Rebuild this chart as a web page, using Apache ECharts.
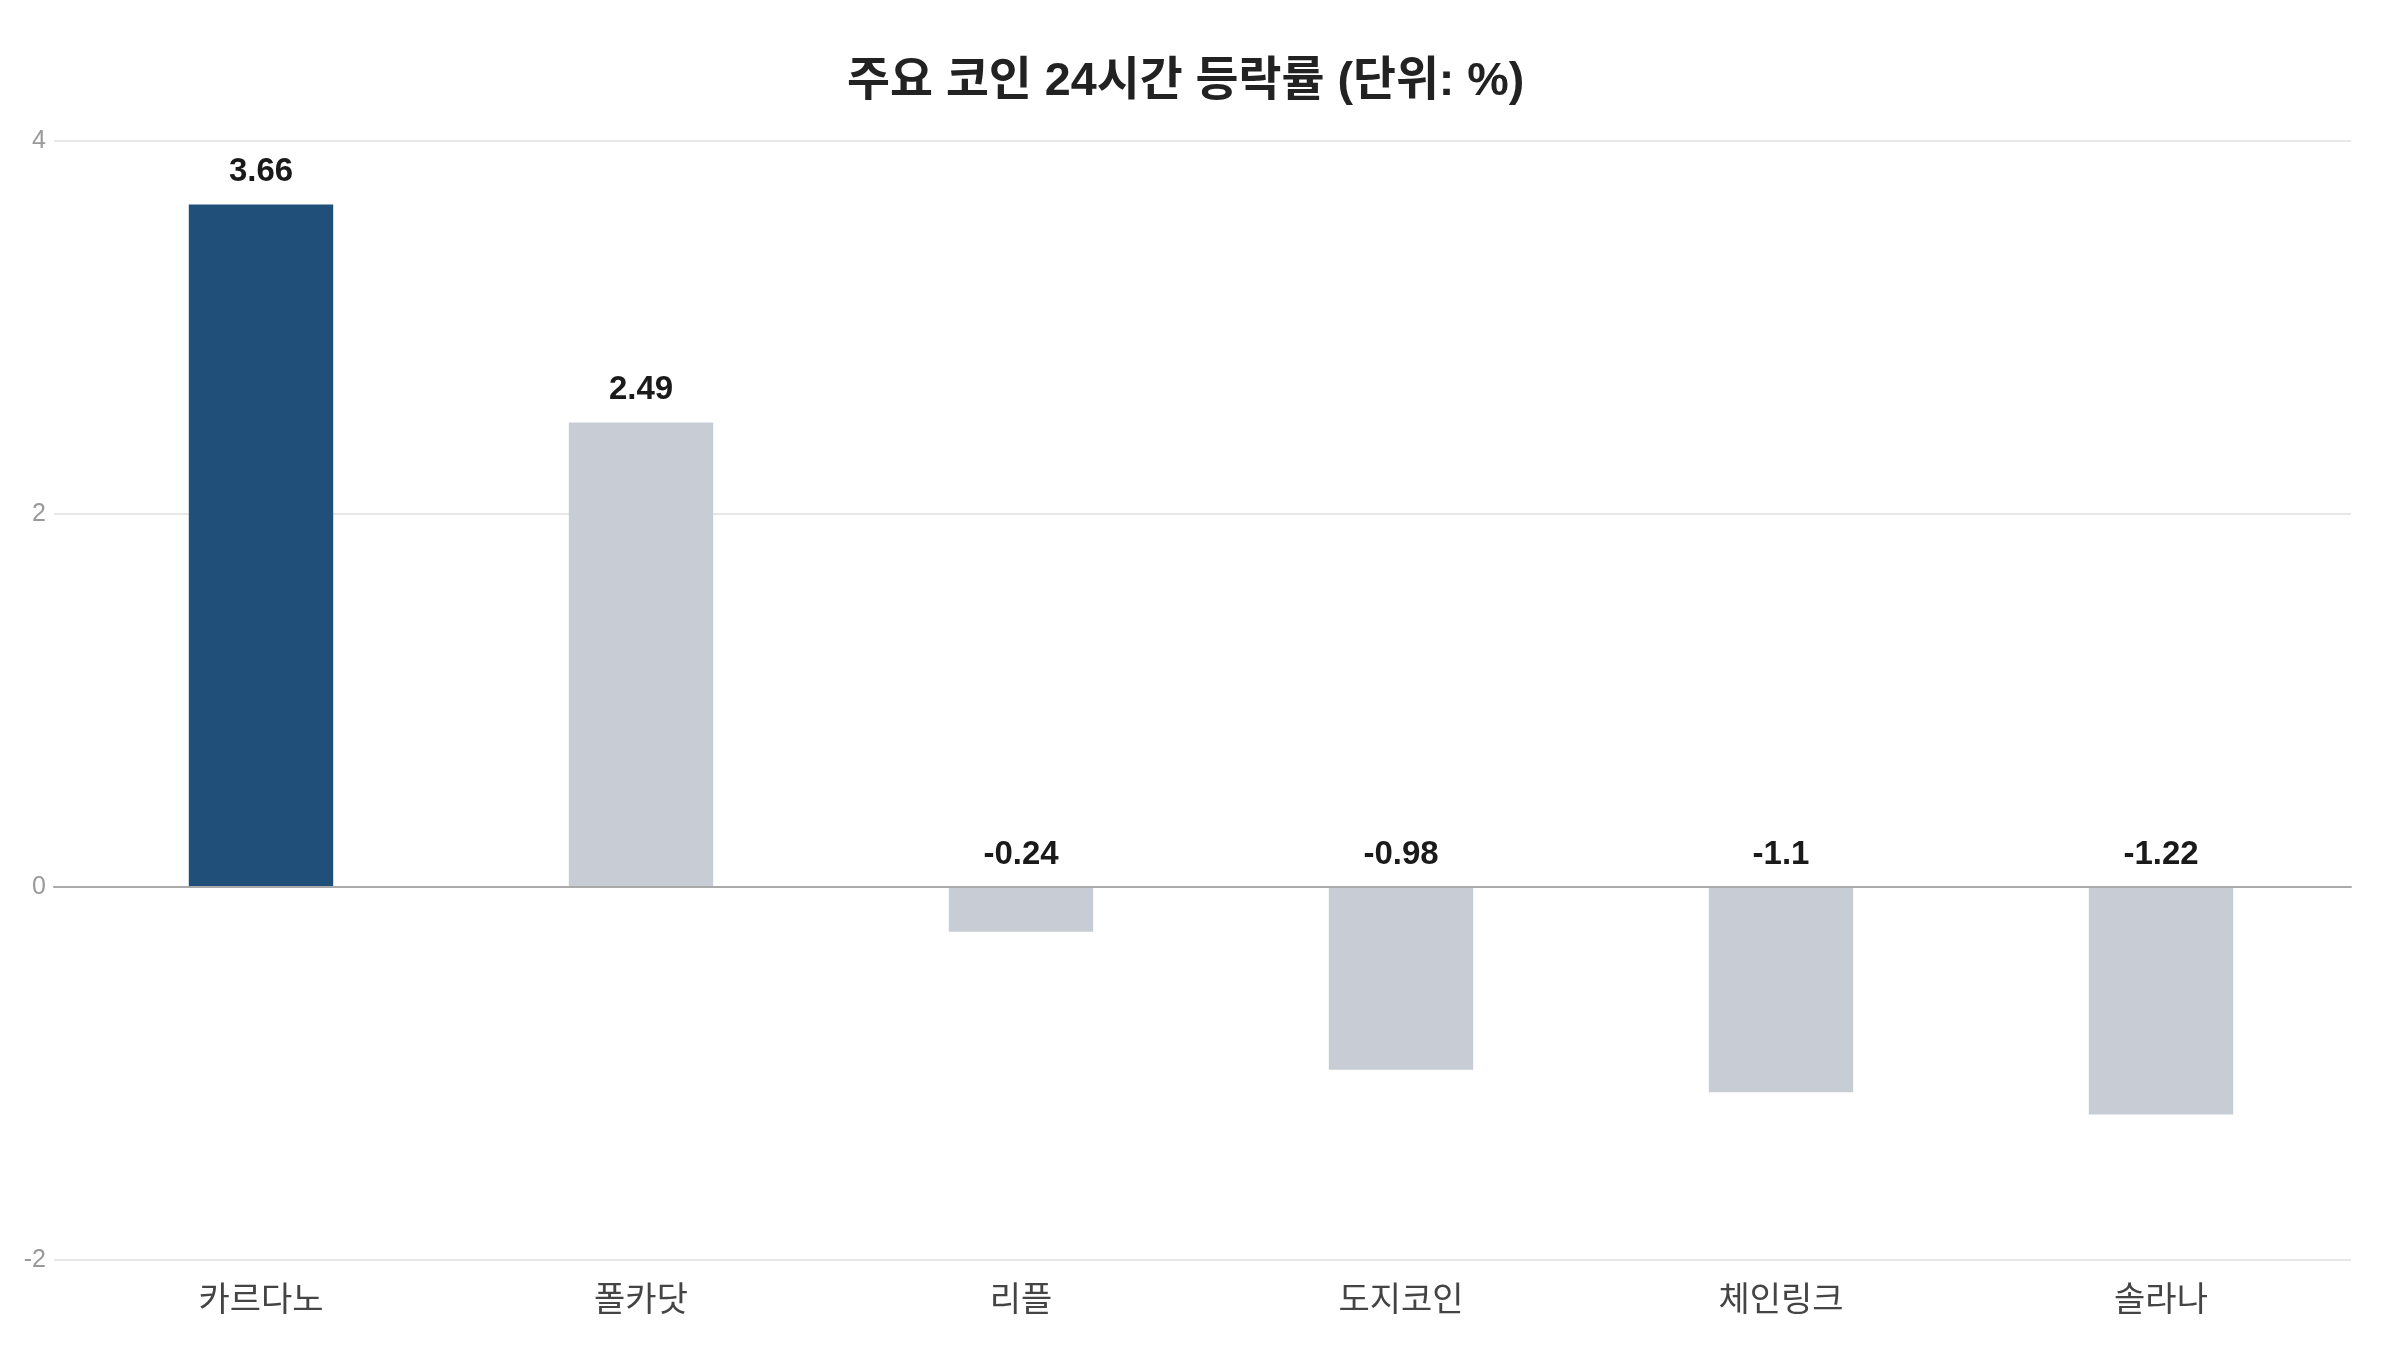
<!DOCTYPE html>
<html>
<head>
<meta charset="utf-8">
<script src="https://cdn.jsdelivr.net/npm/echarts@6/dist/echarts.min.js"></script>
<style>
  html, body { margin: 0; padding: 0; background: #fff; }
  #chart { width: 2400px; height: 1350px; }
</style>
</head>
<body>
<div id="chart"></div>
<script>
// 주요 코인 24시간 등락률 — 첫 번째 막대만 강조색
const COINS = ['카르다노', '폴카닷', '리플', '도지코인', '체인링크', '솔라나'];
const CHANGES = [3.66, 2.49, -0.24, -0.98, -1.1, -1.22];
const HIGHLIGHT = ['카르다노'];

const Y_MIN = -2, Y_MAX = 4, Y_STEP = 2;

const FONT = '"Liberation Sans", "Noto Sans CJK KR", sans-serif';
const C_MAIN = '#204f7a';
const C_REST = '#c8cdd5';

// 눈금선·0 기준선은 왼쪽 끝까지, 막대 영역은 조금 안쪽에서 시작 → grid 두 개
const TOP = 141, BOTTOM = 90;

const chart = echarts.init(document.getElementById('chart'), null, { renderer: 'canvas' });

chart.setOption({
  backgroundColor: '#fff',
  animation: false,
  title: {
    text: '주요 코인 24시간 등락률 (단위: %)',
    left: 842,
    top: 54,
    textStyle: { fontFamily: FONT, fontSize: 46.7, fontWeight: 'bold', color: '#222' },
  },
  grid: [
    { left: 54, right: 49, top: TOP, bottom: BOTTOM },
    { left: 71, right: 49, top: TOP, bottom: BOTTOM },
  ],
  xAxis: [
    {
      type: 'value',
      gridIndex: 0,
      min: 0, max: 1,
      axisLine: { show: true, onZero: true, lineStyle: { color: '#aaaaaa', width: 2 } },
      axisTick: { show: false },
      axisLabel: { show: false },
      splitLine: { show: false },
      z: 3,
    },
    {
      type: 'category',
      gridIndex: 1,
      data: COINS,
      axisLine: { show: false },
      axisTick: { show: false },
      axisLabel: { color: '#444', fontSize: 34, fontFamily: FONT, margin: 25 },
      position: 'bottom',
    },
  ],
  yAxis: [
    {
      type: 'value',
      gridIndex: 0,
      min: Y_MIN, max: Y_MAX, interval: Y_STEP,
      axisLine: { show: false },
      axisTick: { show: false },
      axisLabel: { color: '#999', fontSize: 25, fontFamily: FONT, margin: 8 },
      splitLine: { lineStyle: { color: '#e8e8e8', width: 2 } },
    },
    {
      type: 'value',
      gridIndex: 1,
      min: Y_MIN, max: Y_MAX, interval: Y_STEP,
      show: false,
      splitLine: { show: false },
    },
  ],
  series: [{
    type: 'bar',
    xAxisIndex: 1,
    yAxisIndex: 1,
    barWidth: '38%',
    data: CHANGES.map((v, i) => ({
      value: v,
      itemStyle: { color: HIGHLIGHT.includes(COINS[i]) ? C_MAIN : C_REST },
    })),
    label: {
      show: true,
      position: 'top',
      distance: 16,
      color: '#1a1a1a',
      fontSize: 33,
      fontWeight: 'bold',
      fontFamily: FONT,
    },
  }],
});
</script>
</body>
</html>
